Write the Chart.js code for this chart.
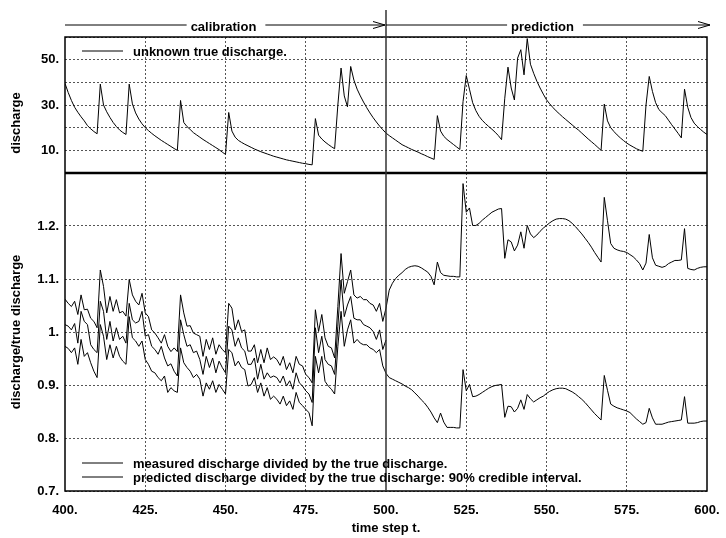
<!DOCTYPE html>
<html>
<head>
<meta charset="utf-8">
<script src="https://cdn.jsdelivr.net/npm/chart.js@4.4.0/dist/chart.umd.min.js"></script>
<style>
  html, body { margin: 0; padding: 0; background: #fff; }
  #wrap { width: 726px; height: 538px; }
</style>
</head>
<body>
<div id="wrap"><canvas id="dischargeChart" width="726" height="538"></canvas></div>
<script>
// time steps: calibration 400..500, prediction 500..600
const tStart = 400;
const tSplit = 500;
const tEnd = 600;

// unknown true discharge, one value per time step (400..600)
const trueDischarge = [
  39.5, 35.5, 32.0, 29.0, 26.8, 24.8, 23.0, 20.9, 19.5, 18.3, // 400
  17.3, 39.2, 30.0, 27.0, 24.5, 22.3, 20.5, 19.0, 17.9, 17.0, // 410
  39.2, 30.5, 26.5, 23.8, 21.7, 20.0, 18.7, 17.5, 16.4, 15.4, // 420
  14.4, 13.5, 12.6, 11.7, 10.8, 10.0, 32.0, 22.3, 20.5, 19.2, // 430
  17.8, 16.8, 15.8, 14.8, 13.9, 13.0, 12.1, 11.2, 10.3, 9.2,  // 440
  8.2, 26.7, 18.5, 15.8, 14.4, 13.5, 12.7, 12.0, 11.3, 10.6,  // 450
  10.0, 9.4, 8.9, 8.4, 7.9, 7.4, 7.0, 6.6, 6.2, 5.8,          // 460
  5.5, 5.2, 4.9, 4.6, 4.3, 4.1, 3.8, 3.6, 24.0, 16.7,         // 470
  15.0, 13.7, 12.6, 11.6, 10.7, 30.0, 46.3, 34.0, 29.2, 47.0, // 480
  41.0, 37.0, 34.0, 31.3, 28.8, 26.5, 24.4, 22.5, 20.7, 19.1, // 490
  17.6, 16.5, 15.5, 14.5, 13.5, 12.5, 11.8, 11.1, 10.4, 9.8,  // 500
  9.2, 8.5, 7.9, 7.2, 6.6, 6.0, 25.3, 18.5, 16.2, 14.8,       // 510
  13.7, 12.6, 11.5, 10.4, 31.5, 43.0, 37.0, 31.0, 27.5, 25.0, // 520
  23.2, 21.8, 20.5, 19.3, 18.0, 16.5, 14.7, 33.0, 46.7, 37.5, // 530
  32.2, 50.7, 54.4, 43.3, 59.3, 48.0, 44.0, 40.5, 37.5, 34.8, // 540
  32.3, 30.5, 28.9, 27.4, 26.1, 24.8, 23.6, 22.4, 21.2, 20.0, // 550
  18.9, 17.6, 16.3, 15.0, 13.8, 12.6, 11.3, 10.0, 30.4, 23.0, // 560
  20.0, 18.3, 16.8, 15.5, 14.3, 13.2, 12.3, 11.5, 10.7, 10.1, // 570
  9.6, 30.0, 42.6, 36.0, 31.0, 28.0, 26.6, 25.3, 23.3, 21.3,  // 580
  19.4, 17.5, 15.5, 37.0, 29.0, 24.5, 22.0, 20.5, 19.2, 18.0, // 590
  17.0                                                        // 600
];

// measured discharge / true discharge (calibration only, 400..500)
const measuredRatio = [
  1.014, 1.011, 1.004, 1.016, 0.979, 1.039, 1.020, 1.014, 0.976, 0.967,
  0.961, 1.058, 1.039, 0.986, 1.020, 0.983, 1.008, 0.986, 0.992, 0.979,
  1.054, 1.023, 1.017, 1.020, 1.039, 0.992, 0.995, 0.973, 0.967, 0.958,
  0.973, 0.951, 0.936, 0.940, 0.926, 0.917, 1.023, 0.995, 0.973, 0.976,
  0.961, 0.964, 0.948, 0.920, 0.954, 0.933, 0.951, 0.923, 0.945, 0.933,
  0.923, 1.011, 1.004, 0.973, 0.989, 0.970, 0.964, 0.939, 0.939, 0.951,
  0.911, 0.939, 0.911, 0.923, 0.914, 0.917, 0.914, 0.904, 0.917, 0.898,
  0.908, 0.892, 0.923, 0.904, 0.898, 0.889, 0.883, 0.867, 1.008, 0.961,
  0.992, 0.948, 0.939, 0.936, 0.920, 1.011, 1.098, 1.029, 1.051, 1.067,
  1.026, 1.023, 1.023, 1.014, 1.011, 1.008, 1.001, 0.986, 1.004, 0.967,
  0.985
];

// predicted / true discharge, 90% credible interval, upper bound (400..600)
const upperRatio = [
  1.062, 1.054, 1.048, 1.058, 1.033, 1.070, 1.042, 1.043, 1.026, 1.020,
  1.008, 1.117, 1.086, 1.036, 1.067, 1.039, 1.061, 1.036, 1.039, 1.030,
  1.099, 1.070, 1.058, 1.051, 1.073, 1.036, 1.029, 1.004, 0.998, 0.989,
  0.979, 0.995, 0.973, 0.963, 0.970, 0.963, 1.070, 1.036, 1.011, 1.012,
  0.998, 0.995, 0.992, 0.954, 0.986, 0.967, 0.989, 0.958, 0.976, 0.967,
  0.961, 1.054, 1.045, 1.004, 1.023, 1.001, 1.004, 0.964, 0.964, 0.976,
  0.942, 0.967, 0.942, 0.970, 0.948, 0.953, 0.948, 0.937, 0.954, 0.929,
  0.942, 0.923, 0.954, 0.939, 0.936, 0.920, 0.914, 0.904, 1.042, 1.001,
  1.033, 0.989, 0.973, 0.970, 0.951, 1.048, 1.148, 1.073, 1.095, 1.117,
  1.070, 1.064, 1.067, 1.061, 1.061, 1.054, 1.051, 1.039, 1.054, 1.020,
  1.045, 1.079, 1.092, 1.101, 1.107, 1.112, 1.118, 1.122, 1.124, 1.125,
  1.124, 1.121, 1.117, 1.113, 1.105, 1.089, 1.132, 1.112, 1.107, 1.106,
  1.105, 1.105, 1.104, 1.104, 1.280, 1.226, 1.234, 1.201, 1.201, 1.205,
  1.211, 1.216, 1.221, 1.226, 1.229, 1.232, 1.233, 1.139, 1.174, 1.170,
  1.153, 1.164, 1.189, 1.158, 1.201, 1.185, 1.178, 1.183, 1.190, 1.196,
  1.201, 1.206, 1.210, 1.213, 1.214, 1.214, 1.213, 1.210, 1.205, 1.199,
  1.192, 1.185, 1.177, 1.169, 1.160, 1.150, 1.141, 1.132, 1.254, 1.210,
  1.167, 1.158, 1.155, 1.153, 1.152, 1.150, 1.146, 1.142, 1.136, 1.129,
  1.117, 1.130, 1.184, 1.140, 1.126, 1.124, 1.122, 1.124, 1.129, 1.132,
  1.135, 1.135, 1.136, 1.195, 1.120, 1.118, 1.117, 1.120, 1.122, 1.123,
  1.123
];

// predicted / true discharge, 90% credible interval, lower bound (400..600)
const lowerRatio = [
  0.973, 0.969, 0.961, 0.970, 0.939, 0.986, 0.954, 0.961, 0.942, 0.926,
  0.914, 1.014, 0.992, 0.948, 0.976, 0.951, 0.973, 0.954, 0.945, 0.939,
  1.029, 0.989, 0.983, 0.973, 0.983, 0.948, 0.939, 0.926, 0.923, 0.914,
  0.908, 0.917, 0.886, 0.895, 0.889, 0.886, 0.970, 0.942, 0.933, 0.926,
  0.914, 0.920, 0.911, 0.879, 0.904, 0.892, 0.908, 0.886, 0.901, 0.892,
  0.883, 0.967, 0.961, 0.936, 0.945, 0.933, 0.929, 0.898, 0.901, 0.914,
  0.886, 0.904, 0.879, 0.895, 0.873, 0.879, 0.873, 0.864, 0.879, 0.861,
  0.870, 0.854, 0.886, 0.867, 0.861, 0.854, 0.848, 0.823, 0.954, 0.923,
  0.954, 0.907, 0.898, 0.892, 0.883, 0.973, 1.039, 0.973, 1.004, 1.023,
  0.979, 0.986, 0.979, 0.976, 0.976, 0.970, 0.967, 0.961, 0.967, 0.936,
  0.922, 0.914, 0.911, 0.908, 0.905, 0.902, 0.898, 0.895, 0.891, 0.885,
  0.879, 0.872, 0.866, 0.858, 0.849, 0.838, 0.829, 0.847, 0.830, 0.820,
  0.820, 0.820, 0.819, 0.819, 0.929, 0.889, 0.901, 0.878, 0.879, 0.882,
  0.886, 0.890, 0.894, 0.897, 0.899, 0.900, 0.901, 0.839, 0.860, 0.859,
  0.849, 0.856, 0.872, 0.854, 0.882, 0.874, 0.868, 0.872, 0.876, 0.879,
  0.884, 0.888, 0.891, 0.893, 0.894, 0.894, 0.893, 0.890, 0.887, 0.883,
  0.878, 0.873, 0.867, 0.860, 0.853, 0.846, 0.840, 0.834, 0.918, 0.890,
  0.864, 0.860, 0.857, 0.855, 0.853, 0.851, 0.848, 0.842, 0.836, 0.831,
  0.826, 0.829, 0.856, 0.838, 0.826, 0.826, 0.826, 0.828, 0.830, 0.831,
  0.832, 0.833, 0.834, 0.878, 0.828, 0.828, 0.828, 0.829, 0.831, 0.832,
  0.832
];

const dischargeTickLabels = [10, 30, 50];
const phaseLabels = ['calibration', 'prediction'];
const topLegend = ['unknown true discharge.'];
const bottomLegend = [
  'measured discharge divided by the true discharge.',
  'predicted discharge divided by the true discharge: 90% credible interval.'
];
const axisTitles = { x: 'time step t.', top: 'discharge', bottom: 'discharge/true discharge' };

const FONT = '"Liberation Sans", Arial, Helvetica, sans-serif';
const GRID = '#555';

function toPoints(values) {
  return values.map((v, i) => ({ x: tStart + i, y: v }));
}

function line(ctx, x1, y1, x2, y2) {
  ctx.beginPath();
  ctx.moveTo(x1, y1);
  ctx.lineTo(x2, y2);
  ctx.stroke();
}

function phaseArrow(ctx, x0, x1, cx, y, text) {
  ctx.font = 'bold 13px ' + FONT;
  ctx.textAlign = 'center';
  ctx.textBaseline = 'alphabetic';
  const w = ctx.measureText(text).width;
  ctx.fillText(text, cx, y + 6);
  ctx.lineWidth = 1;
  line(ctx, x0, y, cx - w / 2 - 4, y);
  line(ctx, cx + w / 2 + 9, y, x1, y);
  ctx.beginPath();
  ctx.moveTo(x1 - 12, y - 3.5);
  ctx.lineTo(x1, y);
  ctx.lineTo(x1 - 12, y + 3.5);
  ctx.stroke();
}

function legendRow(ctx, left, y, text) {
  ctx.lineWidth = 1;
  line(ctx, left + 17, y, left + 58, y);
  ctx.font = 'bold 13px ' + FONT;
  ctx.textAlign = 'left';
  ctx.textBaseline = 'alphabetic';
  ctx.fillText(text, left + 68, y + 4.5);
}

const decor = {
  id: 'decor',
  afterDraw(chart) {
    const { ctx, chartArea: a, scales } = chart;
    const x500 = scales.x.getPixelForValue(tSplit);
    const yDiv = scales.yq.bottom;
    ctx.save();
    ctx.strokeStyle = '#000';
    ctx.fillStyle = '#000';

    // frame and panel divider
    ctx.lineWidth = 1.5;
    ctx.strokeRect(a.left, a.top, a.right - a.left, a.bottom - a.top);
    ctx.lineWidth = 2.5;
    line(ctx, a.left, yDiv, a.right, yDiv);

    // calibration / prediction split
    ctx.strokeStyle = '#333';
    ctx.lineWidth = 1.5;
    line(ctx, x500, 10, x500, a.bottom);
    ctx.strokeStyle = '#000';

    phaseArrow(ctx, a.left, x500 - 1, (a.left + x500) / 2 - 2, 25, phaseLabels[0]);
    phaseArrow(ctx, x500, a.right + 3, (x500 + a.right) / 2 - 4, 25, phaseLabels[1]);

    // legends
    legendRow(ctx, a.left, a.top + 14, topLegend[0]);
    legendRow(ctx, a.left, a.bottom - 28, bottomLegend[0]);
    legendRow(ctx, a.left, a.bottom - 14, bottomLegend[1]);

    // y axis titles
    ctx.font = 'bold 13px ' + FONT;
    ctx.textAlign = 'center';
    ctx.textBaseline = 'middle';
    ctx.translate(16, 123);
    ctx.rotate(-Math.PI / 2);
    ctx.fillText(axisTitles.top, 0, 0);
    ctx.rotate(Math.PI / 2);
    ctx.translate(0, (scales.yr.top + scales.yr.bottom) / 2 - 123);
    ctx.rotate(-Math.PI / 2);
    ctx.fillText(axisTitles.bottom, 0, 0);
    ctx.restore();
  }
};

const lineStyle = { borderColor: '#000', borderWidth: 1, pointRadius: 0, tension: 0, fill: false };

new Chart(document.getElementById('dischargeChart'), {
  type: 'line',
  data: {
    datasets: [
      Object.assign({ label: topLegend[0], data: toPoints(trueDischarge), yAxisID: 'yq' }, lineStyle),
      Object.assign({ label: bottomLegend[0], data: toPoints(measuredRatio), yAxisID: 'yr' }, lineStyle),
      Object.assign({ label: bottomLegend[1], data: toPoints(upperRatio), yAxisID: 'yr' }, lineStyle),
      Object.assign({ label: bottomLegend[1] + ' lower', data: toPoints(lowerRatio), yAxisID: 'yr' }, lineStyle)
    ]
  },
  options: {
    responsive: false,
    animation: false,
    devicePixelRatio: 1,
    layout: { padding: { top: 37, right: 19, left: 0, bottom: 0 } },
    plugins: { legend: { display: false }, tooltip: { enabled: false } },
    scales: {
      x: {
        type: 'linear',
        min: tStart,
        max: tEnd,
        afterFit: s => {
          s.height = 47;
          // the layout padding already leaves room for the end labels
          s.paddingLeft = 0;
          s.paddingRight = 0;
        },
        border: { display: false, dash: [2, 2] },
        grid: {
          drawTicks: false,
          lineWidth: 1,
          color: c => (c.tick && (c.tick.value === tStart || c.tick.value === tSplit || c.tick.value === tEnd)) ? 'rgba(0,0,0,0)' : GRID
        },
        ticks: {
          stepSize: 25,
          autoSkip: false,
          maxRotation: 0,
          padding: 12,
          color: '#000',
          font: { family: FONT, size: 13, weight: 'bold' },
          callback: v => v + '.'
        },
        title: {
          display: true,
          text: axisTitles.x,
          color: '#000',
          padding: { top: 0, bottom: 2 },
          font: { family: FONT, size: 13, weight: 'bold' }
        }
      },
      yr: {
        type: 'linear',
        position: 'left',
        stack: 'panels',
        stackWeight: 318,
        min: 0.7,
        max: 1.3,
        afterFit: s => { s.width = 65; },
        border: { display: false, dash: [2, 2] },
        grid: { drawTicks: false, color: GRID, lineWidth: 1 },
        ticks: {
          stepSize: 0.1,
          autoSkip: false,
          padding: 6,
          color: '#000',
          font: { family: FONT, size: 13, weight: 'bold' },
          callback: v => {
            const r = Math.round(v * 10) / 10;
            if (r >= 1.3) return '';
            return r === 1 ? '1.' : r.toFixed(1) + '.';
          }
        }
      },
      yq: {
        type: 'linear',
        position: 'left',
        stack: 'panels',
        stackWeight: 136,
        min: 0,
        max: 60,
        afterFit: s => { s.width = 65; },
        border: { display: false, dash: [2, 2] },
        grid: { drawTicks: false, color: GRID, lineWidth: 1 },
        ticks: {
          stepSize: 10,
          autoSkip: false,
          padding: 6,
          color: '#000',
          font: { family: FONT, size: 13, weight: 'bold' },
          callback: v => dischargeTickLabels.includes(v) ? v + '.' : ''
        }
      }
    }
  },
  plugins: [decor]
});
</script>
</body>
</html>
